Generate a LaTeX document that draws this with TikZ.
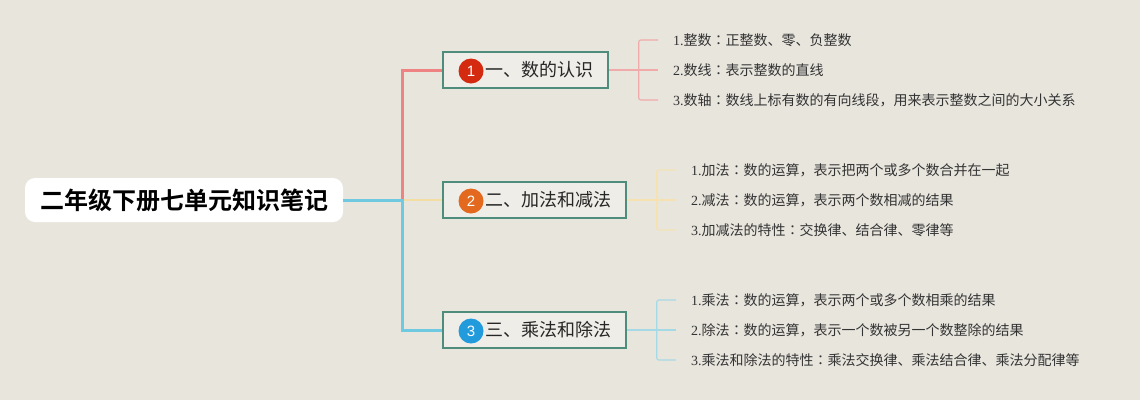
\documentclass[tikz,border=0pt]{standalone}
\usepackage{fontspec}
\setmainfont{Liberation Serif}
\newfontfamily\cjk{Noto Sans CJK SC}
\newfontfamily\cjktc{Noto Sans CJK TC}
\newfontfamily\cjkbold{Noto Sans CJK SC Bold}
\newfontfamily\digitfont{Liberation Sans}
\usetikzlibrary{calc}
\definecolor{bg}{HTML}{E8E5DD}
\definecolor{lred}{HTML}{EF8282}
\definecolor{lyel}{HTML}{F4DDA2}
\definecolor{lblue}{HTML}{6FC9E0}
\definecolor{sred}{HTML}{F0AAAA}
\definecolor{syel}{HTML}{F5E2B0}
\definecolor{sblue}{HTML}{A6D9E6}
\definecolor{boxc}{HTML}{4E8C7C}
\definecolor{c1}{HTML}{D42A10}
\definecolor{c2}{HTML}{E2691E}
\definecolor{c3}{HTML}{229BDD}
\definecolor{leaftxt}{HTML}{333333}
\tikzset{
  rootbox/.style={rectangle, rounded corners=10pt, fill=white, minimum width=318pt, minimum height=44pt, inner sep=0pt, font=\cjkbold\fontsize{24}{24}\selectfont},
  branchbox/.style={rectangle, draw=boxc, line width=1.5pt, fill=bg!70!white, minimum height=36pt, inner sep=0pt},
  numcirc/.style={circle, minimum size=25pt, inner sep=0pt, text=white, font=\digitfont\fontsize{15}{15}\selectfont},
  branchtxt/.style={anchor=west, inner sep=0pt, text=black!85, font=\cjk\fontsize{18}{18}\selectfont},
  leaftext/.style={anchor=west, inner sep=0pt, text=leaftxt, font=\fontsize{14}{14}\selectfont},
  mainline/.style={line width=3pt},
  leafline/.style={line width=1.1pt, rounded corners=2pt},
}
\newcommand{\lf}[3]{#1{\cjk #2}{\cjktc ：}{\cjk #3}}
\begin{document}
\begin{tikzpicture}[x=1pt,y=-1pt]
\fill[bg] (0,0) rectangle (1140,400);
\useasboundingbox (0,0) rectangle (1140,400);

% root
\node[rootbox] (root) at (184,200) {二年级下册七单元知识笔记};

% branch boxes
\node[branchbox, minimum width=165pt] (b1) at (525.5,70) {};
\node[branchbox, minimum width=183pt] (b2) at (534.5,200) {};
\node[branchbox, minimum width=183pt] (b3) at (534.5,330) {};

\node[numcirc, fill=c1] (n1) at (471,71) {1};
\node[numcirc, fill=c2] (n2) at (471,201) {2};
\node[numcirc, fill=c3] (n3) at (471,331) {3};

\node[branchtxt] (t1) at (485.5,70) {一、数的认识};
\node[branchtxt] (t2) at (485.5,200) {二、加法和减法};
\node[branchtxt] (t3) at (485.5,330) {三、乘法和除法};

% main connectors
\coordinate (j) at (402,200);
\draw[mainline, lred] (j) |- (b1.west);
\draw[line width=2pt, lyel] (j) -- (b2.west);
\draw[mainline, lblue] (root.east) -- (j) |- (b3.west);

% leaves of branch 1
\node[leaftext] (l11) at (673,40) {\lf{1.}{整数}{正整数、零、负整数}};
\node[leaftext] (l12) at (673,70) {\lf{2.}{数线}{表示整数的直线}};
\node[leaftext] (l13) at (673,100) {\lf{3.}{数轴}{数线上标有数的有向线段，用来表示整数之间的大小关系}};
\draw[leafline, sred] (b1.east) -- ++(30,0) coordinate (k1);
\draw[leafline, sred] (k1) |- ([xshift=-15pt]l11.west);
\draw[leafline, sred] (k1) |- ([xshift=-15pt]l13.west);
\draw[leafline, sred] (k1) -- ([xshift=-15pt]l12.west);

% leaves of branch 2
\node[leaftext] (l21) at (691,170) {\lf{1.}{加法}{数的运算，表示把两个或多个数合并在一起}};
\node[leaftext] (l22) at (691,200) {\lf{2.}{减法}{数的运算，表示两个数相减的结果}};
\node[leaftext] (l23) at (691,230) {\lf{3.}{加减法的特性}{交换律、结合律、零律等}};
\draw[leafline, syel] (b2.east) -- ++(30,0) coordinate (k2);
\draw[leafline, syel] (k2) |- ([xshift=-15pt]l21.west);
\draw[leafline, syel] (k2) |- ([xshift=-15pt]l23.west);
\draw[leafline, syel] (k2) -- ([xshift=-15pt]l22.west);

% leaves of branch 3
\node[leaftext] (l31) at (691,300) {\lf{1.}{乘法}{数的运算，表示两个或多个数相乘的结果}};
\node[leaftext] (l32) at (691,330) {\lf{2.}{除法}{数的运算，表示一个数被另一个数整除的结果}};
\node[leaftext] (l33) at (691,360) {\lf{3.}{乘法和除法的特性}{乘法交换律、乘法结合律、乘法分配律等}};
\draw[leafline, sblue] (b3.east) -- ++(30,0) coordinate (k3);
\draw[leafline, sblue] (k3) |- ([xshift=-15pt]l31.west);
\draw[leafline, sblue] (k3) |- ([xshift=-15pt]l33.west);
\draw[leafline, sblue] (k3) -- ([xshift=-15pt]l32.west);
\end{tikzpicture}
\end{document}
